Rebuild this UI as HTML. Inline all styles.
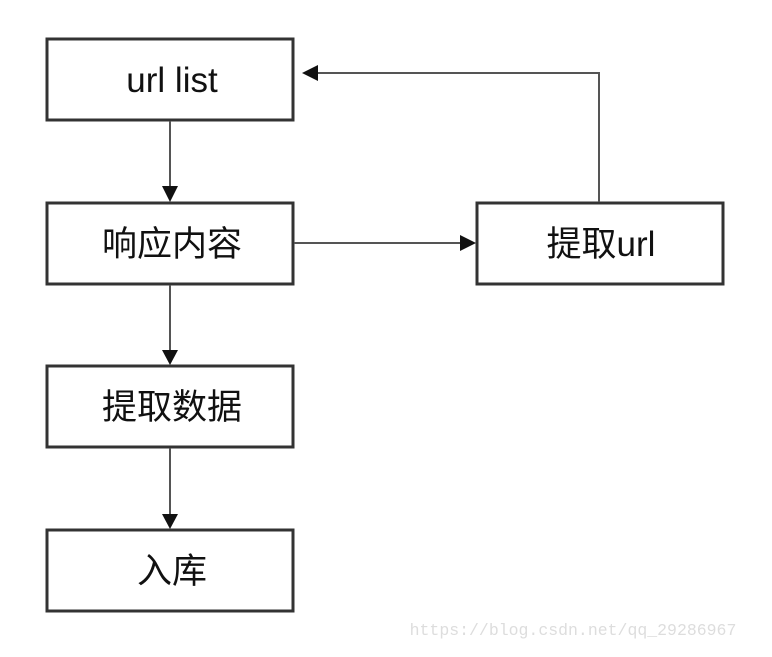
<!DOCTYPE html>
<html><head><meta charset="utf-8"><style>
body{margin:0;background:#fff;width:772px;height:652px;overflow:hidden}
</style></head><body>
<svg width="772" height="652" xmlns="http://www.w3.org/2000/svg">
<g fill="#fff" stroke="#333" stroke-width="3">
<rect x="47" y="39" width="246" height="81"/>
<rect x="47" y="203" width="246" height="81"/>
<rect x="47" y="366" width="246" height="81"/>
<rect x="47" y="530" width="246" height="81"/>
<rect x="477" y="203" width="246" height="81"/>
</g>
<g stroke="#555" stroke-width="2" fill="none">
<line x1="170" y1="121" x2="170" y2="188"/>
<line x1="170" y1="285" x2="170" y2="352"/>
<line x1="170" y1="448" x2="170" y2="516"/>
<line x1="294" y1="243" x2="462" y2="243"/>
<polyline points="599,202 599,73 316,73"/>
</g>
<g fill="#111">
<polygon points="162,186 178,186 170,202"/>
<polygon points="162,350 178,350 170,365"/>
<polygon points="162,514 178,514 170,529"/>
<polygon points="460,235 460,251 476,243"/>
<polygon points="318,65 318,81 302,73"/>
</g>
<g font-family="Liberation Sans, Noto Sans CJK SC, sans-serif" font-size="35" fill="#111" text-anchor="middle">
<text x="172" y="92">url list</text>
<text x="172" y="256">响应内容</text>
<text x="172" y="419">提取数据</text>
<text x="172" y="583">入库</text>
<text x="601" y="256">提取url</text>
</g>
<text x="573" y="635" font-family="Liberation Mono, monospace" font-size="16.5" fill="#ddd" text-anchor="middle">https://blog.csdn.net/qq_29286967</text>
</svg>
</body></html>
